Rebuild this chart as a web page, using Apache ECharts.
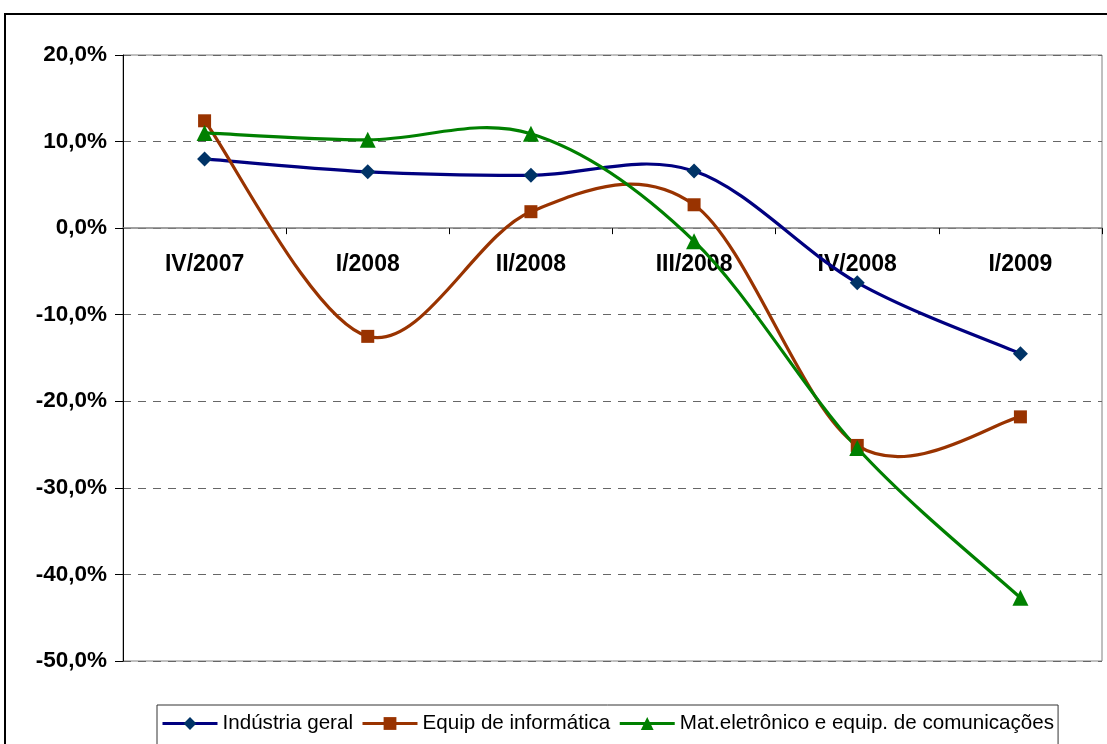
<!DOCTYPE html>
<html>
<head>
<meta charset="utf-8">
<script src="https://cdn.jsdelivr.net/npm/echarts@6/dist/echarts.min.js"></script>
<style>
html,body{margin:0;padding:0;background:#fff;}
#chart{width:1107px;height:744px;}
</style>
</head>
<body>
<div id="chart"></div>
<script>
const categories = ['IV/2007', 'I/2008', 'II/2008', 'III/2008', 'IV/2008', 'I/2009'];
const industriaGeral = [8.0, 6.5, 6.1, 6.6, -6.3, -14.5];
const equipInformatica = [12.4, -12.5, 1.9, 2.7, -25.1, -21.8];
const matEletronico = [11.0, 10.2, 10.9, -1.5, -25.4, -42.7];
const seriesNames = ['Indústria geral', 'Equip de informática', 'Mat.eletrônico e equip. de comunicações'];
const yTicks = { min: -50, max: 20, step: 10 };

const FONT = '"Liberation Sans", Arial, sans-serif';
const chart = echarts.init(document.getElementById('chart'));

const GRID = { left: 123, right: 5, top: 55, bottom: 83 };
const plotH = 744 - GRID.top - GRID.bottom;
const zeroFromBottom = plotH * (0 - yTicks.min) / (yTicks.max - yTicks.min);

function markerSeries(name, data, symbol, lineColor, markColor, size) {
  return {
    name: name,
    type: 'line',
    data: data,
    smooth: false,
    symbol: symbol,
    symbolSize: size,
    showAllSymbol: true,
    lineStyle: { color: lineColor, width: 3, opacity: 0 },
    itemStyle: { color: markColor, borderWidth: 0 },
    emphasis: { disabled: true },
    z: 4
  };
}

// Smooth curve (Catmull-Rom style, as spreadsheet smoothing) through the data points, via axis scales
function curveSeries(name, data, color) {
  return {
    name: name,
    type: 'custom',
    data: data.map((v, i) => [i, v]),
    z: 3,
    silent: true,
    renderItem: function (params, api) {
      if (params.dataIndex !== 0) return null;
      const pts = data.map((v, i) => api.coord([i, v]));
      const n = pts.length;
      let d = 'M' + pts[0][0] + ',' + pts[0][1];
      for (let i = 0; i < n - 1; i++) {
        const p0 = pts[i - 1] || pts[i];
        const p1 = pts[i];
        const p2 = pts[i + 1];
        const p3 = pts[i + 2] || pts[i + 1];
        const c1x = p1[0] + (p2[0] - p0[0]) / 6, c1y = p1[1] + (p2[1] - p0[1]) / 6;
        const c2x = p2[0] - (p3[0] - p1[0]) / 6, c2y = p2[1] - (p3[1] - p1[1]) / 6;
        d += ' C' + c1x + ',' + c1y + ' ' + c2x + ',' + c2y + ' ' + p2[0] + ',' + p2[1];
      }
      return {
        type: 'path',
        shape: { pathData: d },
        style: { fill: 'none', stroke: color, lineWidth: 3.2, lineJoin: 'round' }
      };
    }
  };
}

chart.setOption({
  animation: false,
  backgroundColor: '#fff',
  textStyle: { fontFamily: FONT },
  grid: Object.assign({ show: true, borderColor: '#808080', borderWidth: 1, containLabel: false }, GRID),
  graphic: [{
    type: 'rect',
    shape: { x: 5, y: 14, width: 1200, height: 1000 },
    style: { fill: 'none', stroke: '#000', lineWidth: 2 },
    silent: true, z: 0
  }],
  legend: {
    left: 157, top: 705,
    itemWidth: 55, itemHeight: 16, itemGap: 8,
    padding: [8, 4, 30, 4],
    borderColor: '#333', borderWidth: 1,
    lineStyle: { opacity: 1, width: 3 },
    textStyle: { fontSize: 20.6, color: '#000', fontFamily: FONT },
    data: seriesNames
  },
  xAxis: {
    type: 'category',
    data: categories,
    boundaryGap: true,
    offset: -zeroFromBottom,
    axisLine: { onZero: false, lineStyle: { color: '#808080', width: 1.5 } },
    axisTick: { show: true, alignWithLabel: false, length: 6, lineStyle: { color: '#000' } },
    axisLabel: { margin: 25, fontSize: 23, fontWeight: 'bold', color: '#000', fontFamily: FONT },
    splitLine: { show: false }
  },
  yAxis: {
    type: 'value',
    min: yTicks.min, max: yTicks.max, interval: yTicks.step,
    axisLine: { show: true, onZero: false, lineStyle: { color: '#000', width: 1 } },
    axisTick: { show: true, length: 8, lineStyle: { color: '#000' } },
    axisLabel: {
      margin: 16, fontSize: 22.5, fontWeight: 'bold', color: '#000', fontFamily: FONT,
      formatter: v => v.toFixed(1).replace('.', ',') + '%'
    },
    splitLine: { show: true, lineStyle: { color: '#666', type: [8, 7], width: 1 } }
  },
  series: [
    markerSeries(seriesNames[0], industriaGeral, 'diamond', '#000080', '#003366', 15),
    markerSeries(seriesNames[1], equipInformatica, 'rect', '#993300', '#993300', 13),
    markerSeries(seriesNames[2], matEletronico, 'triangle', '#008000', '#008000', 16),
    curveSeries(seriesNames[0], industriaGeral, '#000080'),
    curveSeries(seriesNames[1], equipInformatica, '#993300'),
    curveSeries(seriesNames[2], matEletronico, '#008000')
  ]
});
</script>
</body>
</html>
